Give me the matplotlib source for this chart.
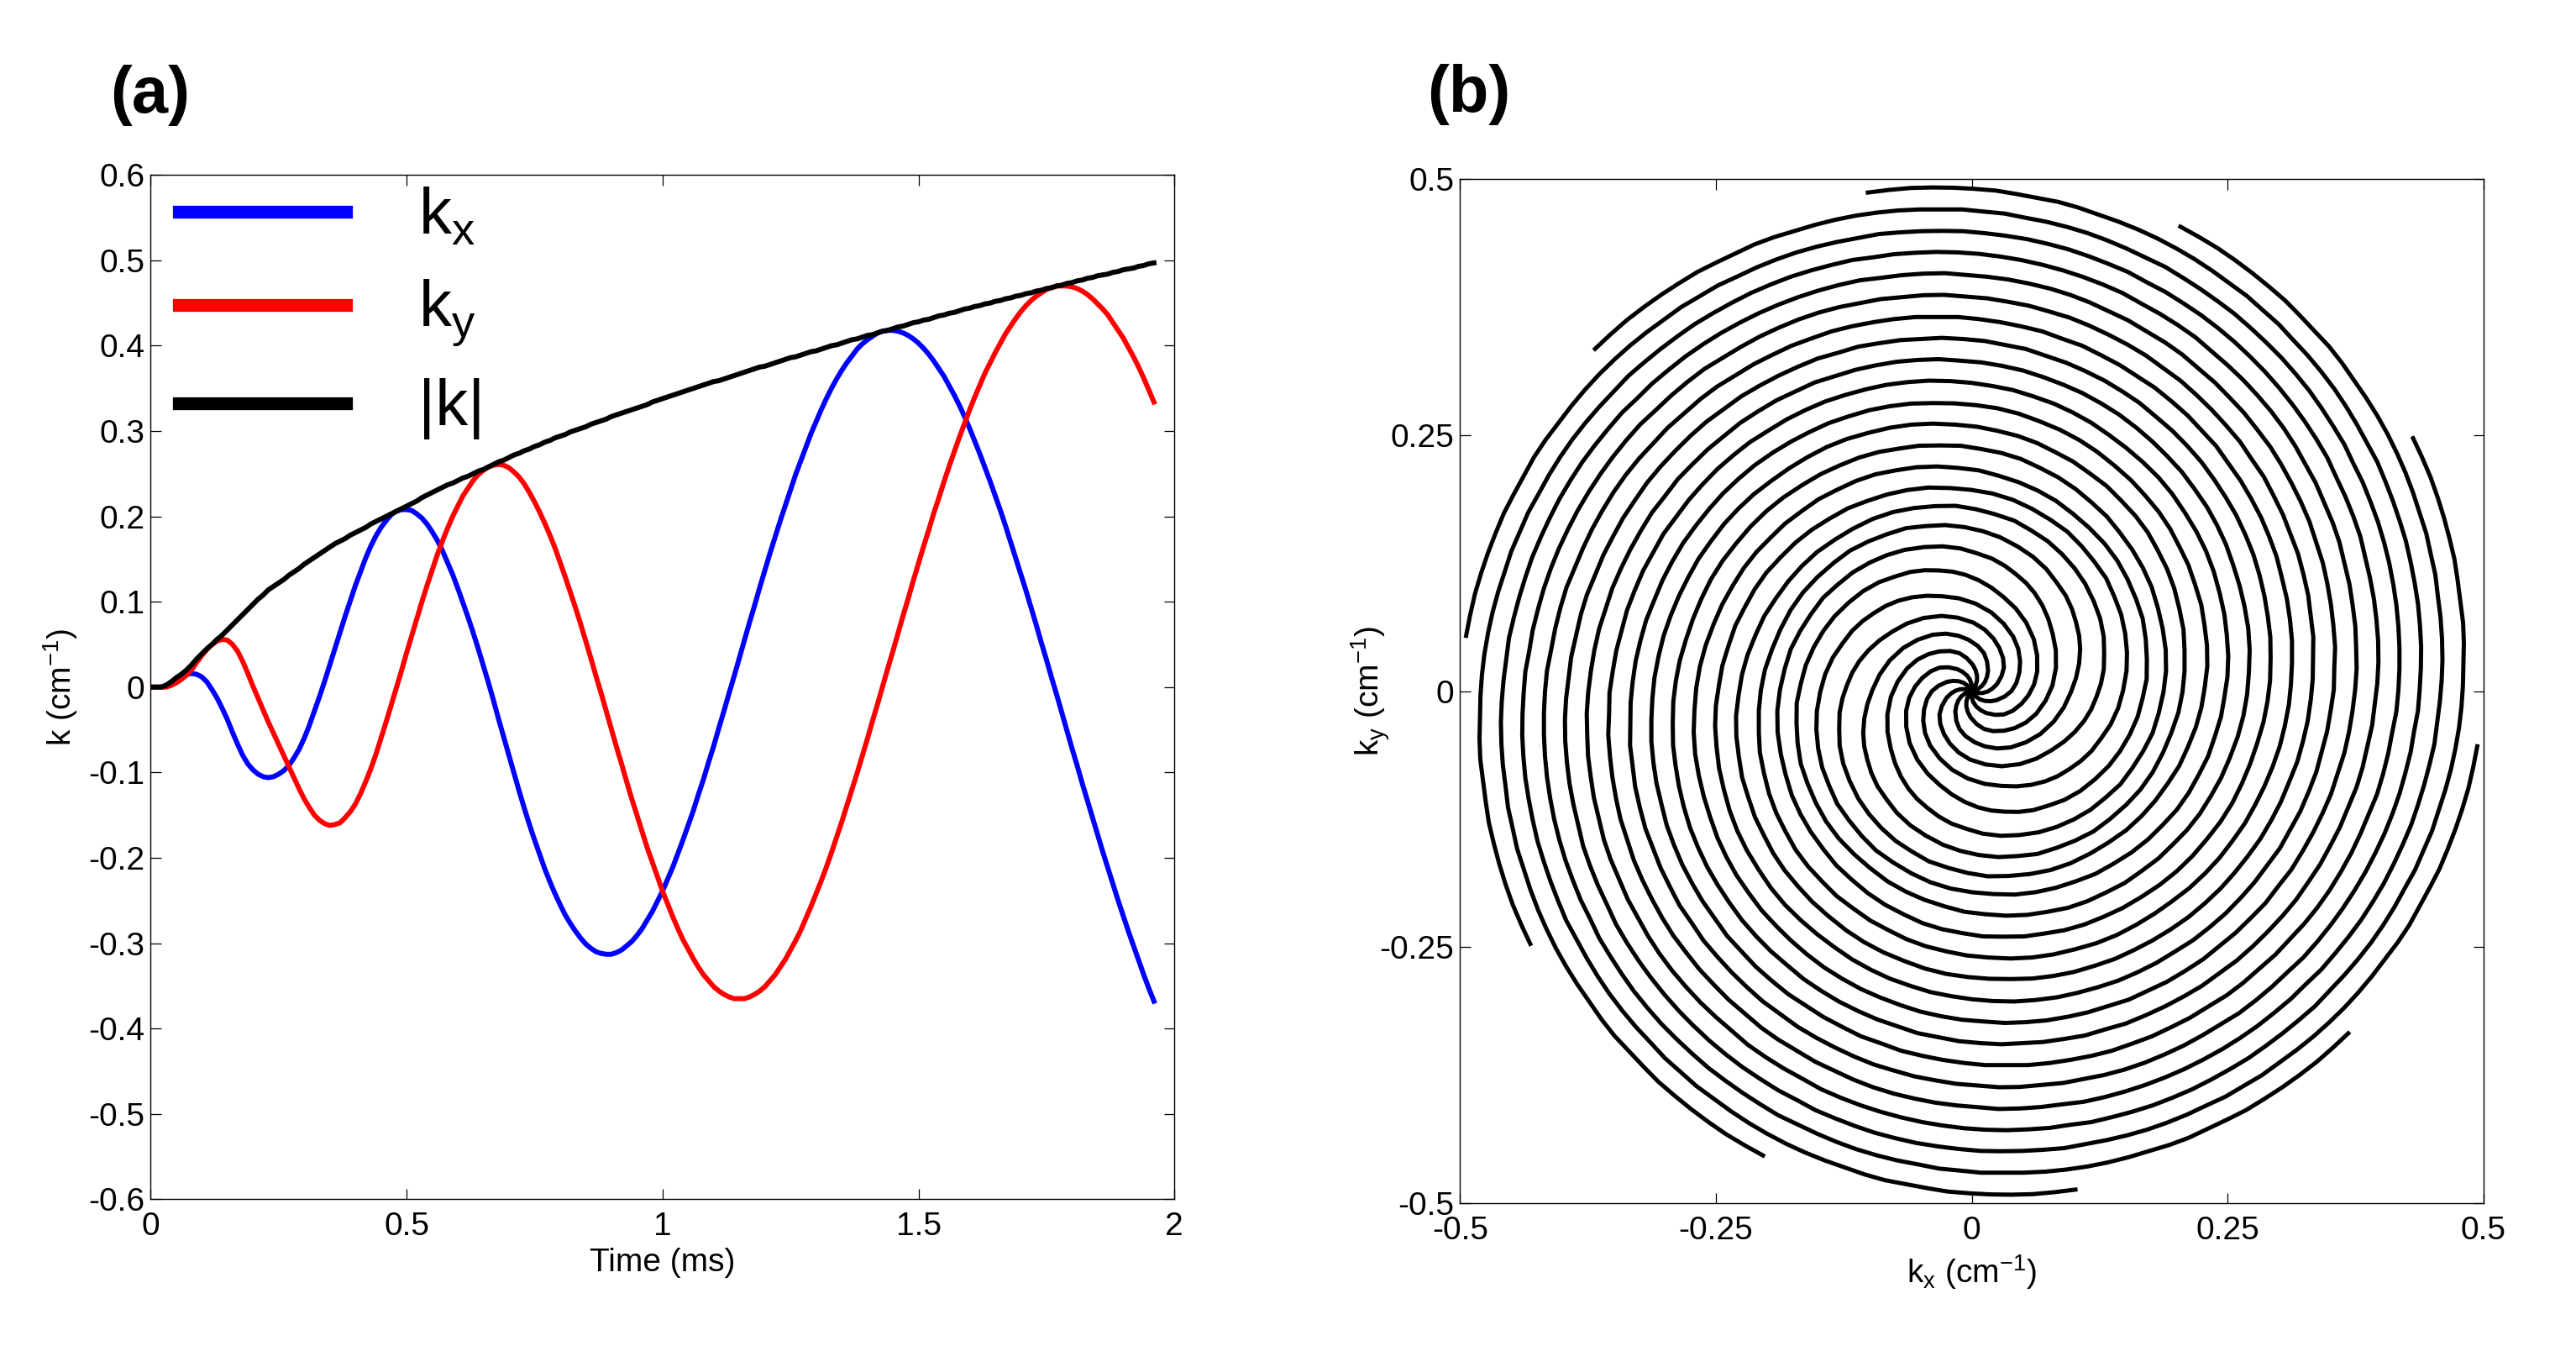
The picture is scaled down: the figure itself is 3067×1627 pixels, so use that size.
import numpy as np
import matplotlib
matplotlib.use("Agg")
import matplotlib.pyplot as plt

# fuentes tipo Arial, como en el original
plt.rcParams['font.family'] = ['Liberation Sans', 'DejaVu Sans']
plt.rcParams['mathtext.fontset'] = 'custom'
plt.rcParams['mathtext.rm'] = 'Liberation Sans'
plt.rcParams['mathtext.it'] = 'Liberation Sans:italic'
plt.rcParams['mathtext.default'] = 'regular'
plt.rcParams['axes.unicode_minus'] = False

# Tiempo de lectura (ms), una muestra cada 10 us
time_ms = np.linspace(0, 1.96, 197)

# Trayectoria de una sola rama (a), en 1e-3 cm^-1
kx_milli = [
    0, 0, 0, 2, 6, 10, 13, 15, 16, 15,
    12, 6, -3, -13, -25, -38, -53, -67, -80, -90,
    -97, -102, -105, -106, -105, -102, -98, -92, -83, -73,
    -60, -45, -28, -11, 7, 26, 45, 64, 83, 101,
    119, 135, 151, 165, 177, 187, 195, 202, 206, 208,
    208, 207, 203, 198, 191, 182, 172, 160, 146, 132,
    116, 99, 82, 64, 45, 25, 5, -16, -38, -59,
    -80, -101, -122, -142, -161, -179, -196, -213, -228, -242,
    -255, -267, -277, -286, -294, -301, -306, -310, -312, -313,
    -313, -311, -308, -303, -298, -291, -283, -273, -263, -251,
    -239, -225, -211, -195, -179, -162, -145, -126, -108, -88,
    -69, -48, -28, -7, 13, 34, 55, 76, 96, 117,
    137, 157, 176, 195, 213, 231, 249, 265, 281, 297,
    311, 325, 338, 350, 361, 371, 380, 388, 396, 402,
    407, 411, 415, 417, 418, 418, 417, 415, 412, 408,
    403, 397, 390, 382, 373, 364, 353, 342, 330, 317,
    303, 288, 273, 257, 241, 224, 207, 189, 170, 151,
    132, 113, 93, 73, 52, 32, 11, -9, -30, -51,
    -72, -92, -113, -133, -153, -173, -193, -212, -231, -250,
    -268, -286, -303, -320, -337, -353, -368]

ky_milli = [
    0, 0, 0, 0, 2, 5, 9, 14, 20, 29,
    37, 44, 50, 54, 56, 55, 50, 42, 30, 16,
    1, -13, -27, -41, -54, -67, -80, -93, -106, -119,
    -131, -141, -150, -156, -160, -162, -161, -159, -153, -146,
    -137, -125, -111, -96, -79, -60, -41, -21, -1, 19,
    40, 60, 80, 100, 119, 137, 155, 171, 186, 200,
    212, 224, 233, 242, 249, 254, 258, 260, 261, 260,
    257, 252, 246, 238, 228, 217, 205, 192, 178, 163,
    146, 129, 111, 93, 74, 54, 34, 13, -7, -28,
    -49, -70, -90, -111, -131, -150, -169, -188, -205, -222,
    -239, -254, -269, -283, -296, -307, -318, -328, -337, -344,
    -351, -356, -360, -363, -365, -365, -365, -363, -360, -356,
    -351, -344, -337, -328, -319, -308, -297, -285, -271, -257,
    -242, -227, -211, -194, -176, -158, -139, -120, -101, -81,
    -61, -40, -20, 1, 22, 42, 63, 84, 104, 125,
    145, 165, 184, 204, 222, 241, 259, 276, 293, 309,
    325, 340, 354, 368, 380, 392, 403, 414, 423, 432,
    440, 447, 453, 458, 462, 466, 468, 470, 470, 470,
    469, 467, 464, 460, 455, 449, 443, 436, 427, 418,
    409, 398, 387, 375, 362, 348, 334]

kabs_milli = [
    0, 0, 0, 2, 6, 11, 15, 20, 26, 33,
    39, 45, 50, 56, 61, 67, 73, 79, 85, 91,
    97, 103, 108, 114, 118, 122, 126, 131, 135, 139,
    144, 148, 152, 156, 160, 164, 168, 171, 174, 178,
    181, 184, 187, 191, 194, 197, 200, 203, 206, 209,
    212, 215, 218, 222, 225, 228, 231, 234, 237, 239,
    242, 245, 247, 250, 253, 255, 258, 261, 264, 266,
    269, 272, 274, 277, 279, 282, 284, 287, 289, 292,
    294, 296, 299, 301, 303, 305, 308, 310, 312, 314,
    317, 319, 321, 323, 325, 327, 329, 331, 334, 336,
    338, 340, 342, 344, 346, 348, 350, 352, 354, 356,
    358, 359, 361, 363, 365, 367, 369, 371, 373, 375,
    376, 378, 380, 382, 384, 386, 387, 389, 391, 393,
    394, 396, 398, 400, 401, 403, 405, 407, 408, 410,
    412, 413, 415, 417, 418, 420, 422, 423, 425, 427,
    428, 430, 431, 433, 435, 436, 438, 439, 441, 443,
    444, 446, 447, 449, 450, 452, 453, 455, 456, 458,
    459, 461, 462, 464, 465, 467, 468, 470, 471, 473,
    474, 476, 477, 479, 480, 482, 483, 484, 486, 487,
    489, 490, 491, 493, 494, 496, 497]

n_interleaves = 10  # ramas de la espiral en (b)

kx = np.array(kx_milli) / 1000.0
ky = np.array(ky_milli) / 1000.0
k_abs = np.array(kabs_milli) / 1000.0

W, H = 3067, 1627
fig = plt.figure(figsize=(W / 100, H / 100), dpi=100)

ax1 = fig.add_axes([179.3 / W, 1 - 1427.3 / H, 1219 / W, 1219 / H])
ax2 = fig.add_axes([1738.3 / W, 1 - 1432.3 / H, 1218.4 / W, 1219.6 / H])

# (a) componentes de k en el tiempo
ax1.plot(time_ms, kx, color=(0, 0, 1), lw=4.3, label='k$_x$')
ax1.plot(time_ms, ky, color=(1, 0, 0), lw=4.3, label='k$_y$')
ax1.plot(time_ms, k_abs, color='k', lw=4.3, label='|k|')

ax1.set_xlim(0, 2)
ax1.set_ylim(-0.6, 0.6)
ax1.set_xticks([0, 0.5, 1, 1.5, 2])
ax1.set_xticklabels(['0', '0.5', '1', '1.5', '2'])
yt = np.round(np.arange(-0.6, 0.61, 0.1), 1)
ax1.set_yticks(yt)
ax1.set_yticklabels(['0' if v == 0 else f'{v:g}' for v in yt])
ax1.set_xlabel('Time (ms)', fontsize=28, va='baseline')
ax1.set_ylabel('k (cm$^{-1}$)', fontsize=28, va='baseline')
ax1.xaxis.set_label_coords(0.5, -0.0703)
ax1.yaxis.set_label_coords(-0.0774, 0.5)

leg = ax1.legend(loc='upper left', bbox_to_anchor=(0.0276, 0.9885), frameon=False,
                 fontsize=56, handlelength=2.56, handletextpad=1.1,
                 labelspacing=0.455, borderpad=0, borderaxespad=0)
for ln in leg.get_lines():
    ln.set_linewidth(11)

# (b) la misma rama girada para cada interleave
for j in range(n_interleaves):
    a = 2 * np.pi * j / n_interleaves
    ax2.plot(kx * np.cos(a) - ky * np.sin(a), kx * np.sin(a) + ky * np.cos(a),
             color='k', lw=3.6)
ax2.set_xlim(-0.5, 0.5)
ax2.set_ylim(-0.5, 0.5)
t2 = [-0.5, -0.25, 0, 0.25, 0.5]
lab2 = ['-0.5', '-0.25', '0', '0.25', '0.5']
ax2.set_xticks(t2)
ax2.set_xticklabels(lab2)
ax2.set_yticks(t2)
ax2.set_yticklabels(lab2)
ax2.set_xlabel('k$_x$ (cm$^{-1}$)', fontsize=28, va='baseline')
ax2.set_ylabel('k$_y$ (cm$^{-1}$)', fontsize=28, va='baseline')
ax2.xaxis.set_label_coords(0.5, -0.0777)
ax2.yaxis.set_label_coords(-0.0782, 0.5)

for ax in (ax1, ax2):
    ax.tick_params(direction='in', top=True, right=True, length=9, width=0.9,
                   labelsize=28, color='k')
    ax.tick_params(axis='x', pad=10.5)
    ax.tick_params(axis='y', pad=5)
    for s in ax.spines.values():
        s.set_linewidth(1.0)

fig.text(131 / W, 1 - 134 / H, '(a)', fontsize=56, fontweight='bold', va='baseline')
fig.text(1699 / W, 1 - 133 / H, '(b)', fontsize=56, fontweight='bold', va='baseline')

fig.savefig('out.png', dpi=100)
